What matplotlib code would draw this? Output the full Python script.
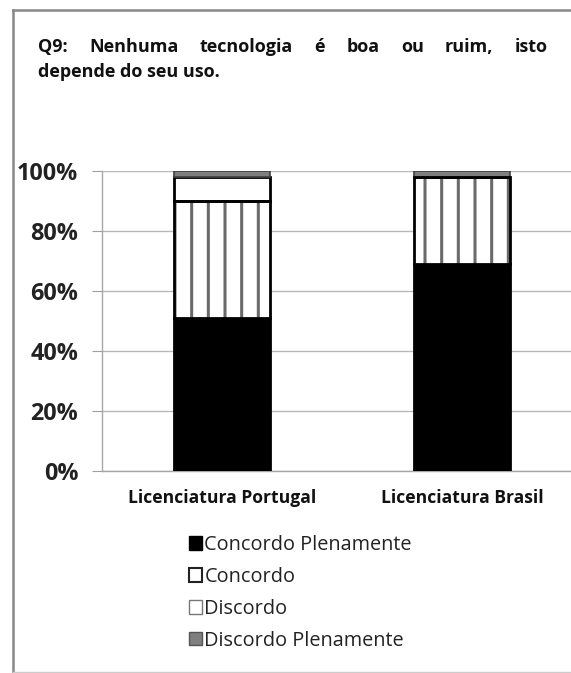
import numpy as np
import matplotlib
matplotlib.use("Agg")
import matplotlib.pyplot as plt
from matplotlib.lines import Line2D
from matplotlib.patches import Patch

plt.rcParams["font.family"] = ["Open Sans", "DejaVu Sans"]
plt.rcParams["hatch.linewidth"] = 2.2

categories = ["Licenciatura Portugal", "Licenciatura Brasil"]
series = ["Concordo Plenamente", "Concordo", "Discordo", "Discordo Plenamente"]
concordo_plen = [51, 69]
concordo = [39, 29]
discordo = [8, 0]
discordo_plen = [2, 2]
yticks = [0, 20, 40, 60, 80, 100]
title_l1 = "Q9: Nenhuma tecnologia é boa ou ruim, isto"
title_l2 = "depende do seu uso."

W, H = 571, 673
fig = plt.figure(figsize=(W / 100, H / 100), dpi=100)

ax = fig.add_axes([102 / W, 1 - 471 / H, 480 / W, 300 / H])
x = np.arange(len(categories))
bw = 0.40
values = [concordo_plen, concordo, discordo, discordo_plen]
bottom = np.zeros(len(categories))
for name, vals in zip(series, values):
    vals = np.array(vals, dtype=float)
    if name == "Concordo Plenamente":
        ax.bar(x, vals, bw, bottom=bottom, color="black", edgecolor="black",
               lw=2, zorder=3)
    elif name == "Concordo":
        ax.bar(x, vals, bw, bottom=bottom, color="white", edgecolor="#6a6a6a",
               hatch="|", lw=0, zorder=3)
        ax.bar(x, vals, bw, bottom=bottom, fill=False, edgecolor="black",
               lw=2, zorder=4)
    elif name == "Discordo":
        ax.bar(x, vals, bw, bottom=bottom, color="white", edgecolor="black",
               lw=2, zorder=3)
    else:
        ax.bar(x, vals, bw, bottom=bottom, color="#7f7f7f", edgecolor="#404040",
               lw=1.2, zorder=3)
    bottom += vals

ax.set_xlim(-0.5, 1.5)
ax.set_ylim(0, 100)
ax.set_yticks(yticks)
ax.set_yticklabels([f"{v}%" for v in yticks], fontsize=16.8, fontweight="bold",
                   color="#222222")
ax.set_xticks(x)
ax.set_xticklabels(categories, fontsize=12.6, fontweight="bold", color="#111111")
ax.tick_params(axis="x", length=0, pad=13)
ax.tick_params(axis="y", length=7, color="#a0a0a0", pad=10)
ax.yaxis.grid(True, color="#b8b8b8", lw=1)
ax.set_axisbelow(True)
for s in ["top", "right"]:
    ax.spines[s].set_visible(False)
for s in ["left", "bottom"]:
    ax.spines[s].set_color("#a8a8a8")
    ax.spines[s].set_linewidth(1)

handles = [
    Patch(facecolor="black", edgecolor="black"),
    Patch(facecolor="white", edgecolor="#222222", lw=1.5),
    Patch(facecolor="white", edgecolor="#777777", lw=1),
    Patch(facecolor="#7f7f7f", edgecolor="#555555", lw=1),
]
fig.legend(handles, series, loc="upper left", bbox_to_anchor=(189 / W, 1 - 535 / H),
           frameon=False, fontsize=14.3, handlelength=0.66, handleheight=0.66,
           handletextpad=0.12, labelspacing=0.6, borderaxespad=0, borderpad=0,
           labelcolor="#222222")

# title, first line justified
renderer = fig.canvas.get_renderer()
words = title_l1.split()
x0, x1 = 38 / W, 548 / W
y1 = 1 - 47 / H
tws = [fig.text(0, y1, w, fontsize=13, fontweight="bold", va="center",
                color="#111111") for w in words]
widths = [t.get_window_extent(renderer).width / W for t in tws]
gap = (x1 - x0 - sum(widths)) / (len(words) - 1)
pos = x0
for t, w in zip(tws, widths):
    t.set_x(pos)
    pos += w + gap
fig.text(x0, 1 - 72 / H, title_l2, fontsize=13, fontweight="bold", va="center",
         color="#111111")

# outer frame
fig.add_artist(Line2D([13 / W, 13 / W], [0, 1 - 10 / H], color="#888888", lw=1.8))
fig.add_artist(Line2D([13 / W, 1], [1 - 10 / H, 1 - 10 / H], color="#888888", lw=1.8))
fig.add_artist(Line2D([13 / W, 1], [1 / H, 1 / H], color="#cccccc", lw=1))

fig.savefig("out.png", dpi=100)
